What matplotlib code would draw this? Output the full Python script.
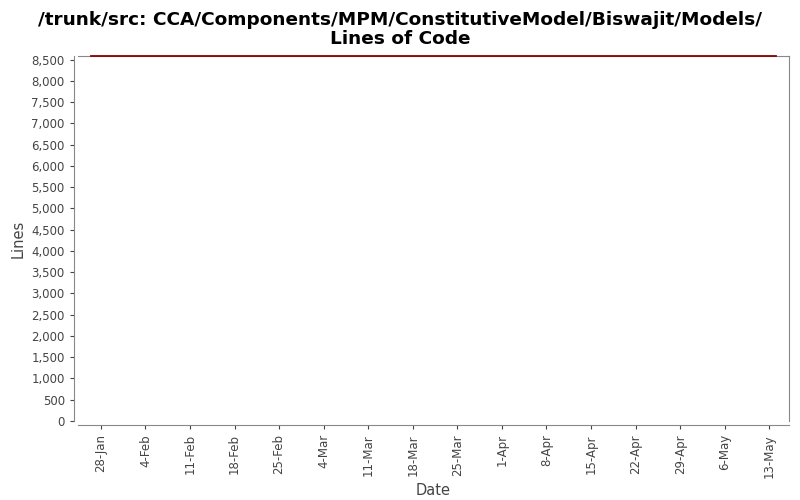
import matplotlib
matplotlib.use("Agg")
from matplotlib import pyplot as plt
import matplotlib.dates as mdates
import matplotlib.ticker as mticker
import datetime as dt

# data
dates = [dt.datetime(2007, 1, 26, 10), dt.datetime(2007, 5, 14)]
lines = [8583, 8583]
tick_dates = [dt.date(2007, 1, 28) + dt.timedelta(days=7 * i) for i in range(16)]

fig = plt.figure(figsize=(8, 5), dpi=100)
ax = fig.add_axes([0.0975, 0.158, 0.889, 0.73])

ax.plot(dates, lines, color='#8b0000', linewidth=1.3, clip_on=False, zorder=5)

ax.set_xlim(dt.datetime(2007, 1, 24, 10), dt.datetime(2007, 5, 16, 3))
ax.set_ylim(0, 8583)
ax.yaxis.set_major_locator(mticker.MultipleLocator(500))
ax.yaxis.set_major_formatter(mticker.FuncFormatter(lambda v, p: f"{int(v):,}"))
ax.set_xticks(tick_dates)
ax.xaxis.set_major_formatter(mdates.DateFormatter('%-d-%b'))

ax.tick_params(labelsize=8.5, colors='#444444', length=3, width=0.8)
ax.tick_params(axis='x', labelrotation=90)
for s in ax.spines.values():
    s.set_color('#888888')
ax.spines['left'].set_position(('outward', 3))
ax.spines['bottom'].set_position(('outward', 3))

ax.set_xlabel('Date', fontsize=10.5, color='#444444')
ax.set_ylabel('Lines', fontsize=10.5, color='#444444')
fig.suptitle('/trunk/src: CCA/Components/MPM/ConstitutiveModel/Biswajit/Models/\nLines of Code',
             fontsize=13.3, fontweight='bold', y=0.978, linespacing=1.1)

fig.savefig('out.png')
